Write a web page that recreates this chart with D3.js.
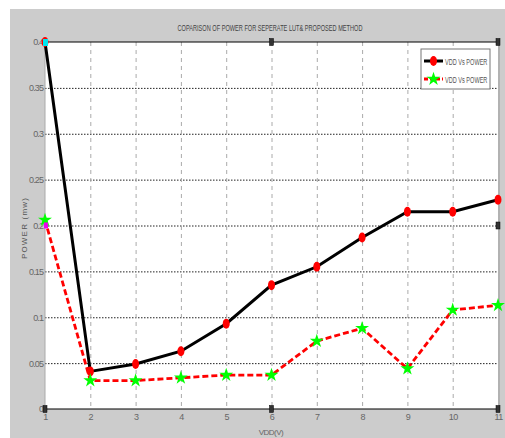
<!DOCTYPE html>
<html>
<head>
<meta charset="utf-8">
<script src="https://cdn.jsdelivr.net/npm/d3@7"></script>
<style>
	body { margin: 0; background: #fff; }
	svg text { font-family: "Liberation Sans", Arial, sans-serif; }
</style>
</head>
<body>
<svg id="chart" width="505" height="438"></svg>
<script>
// values
var vdd = [1, 2, 3, 4, 5, 6, 7, 8, 9, 10, 11];
var lutPower = [0.4, 0.041, 0.049, 0.063, 0.093, 0.135, 0.155, 0.187, 0.215, 0.215, 0.228];
var proposedPower = [0.206, 0.031, 0.031, 0.034, 0.037, 0.037, 0.074, 0.088, 0.044, 0.108, 0.113];
var yTicks = [0, 0.05, 0.1, 0.15, 0.2, 0.25, 0.3, 0.35, 0.4];
var yTickLabels = ["0", "0.05", "0.1", "0.15", "0.2", "0.25", "0.3", "0.35", "0.4"];
var legendNames = ["VDD Vs POWER", "VDD Vs POWER"];

var svg = d3.select("#chart"),
	margin = { top: 42, left: 45, right: 7, bottom: 29 },
	width = +svg.attr("width"),
	height = +svg.attr("height");

// grey figure background
svg.append("rect").attr("x", 10).attr("y", 9)
	.attr("width", width - 10).attr("height", height - 9)
	.attr("fill", "#cccccc");

var x = d3.scaleLinear().domain([1, 11]).range([margin.left, width - margin.right]);
var y = d3.scaleLinear().domain([0, 0.4]).range([height - margin.bottom, margin.top]);

svg.append("rect")
	.attr("x", x(1)).attr("y", y(0.4))
	.attr("width", x(11) - x(1)).attr("height", y(0) - y(0.4))
	.attr("fill", "#fff");

// grid
var g_grid = svg.append("g");
g_grid.selectAll("line.h").data(yTicks.slice(1, -1)).enter().append("line")
	.attr("x1", x(1)).attr("x2", x(11))
	.attr("y1", function(d) { return y(d) + 0.5; })
	.attr("y2", function(d) { return y(d) + 0.5; })
	.attr("stroke", "#222").attr("stroke-width", 1)
	.attr("stroke-dasharray", "1.5,1.5");
g_grid.selectAll("line.v").data(vdd.slice(1, -1)).enter().append("line")
	.attr("x1", function(d) { return x(d) + 0.5; })
	.attr("x2", function(d) { return x(d) + 0.5; })
	.attr("y1", y(0.4)).attr("y2", y(0))
	.attr("stroke", "#aaa").attr("stroke-width", 1)
	.attr("stroke-dasharray", "4,4");

// frame
svg.append("line").attr("x1", x(1)).attr("x2", x(11))
	.attr("y1", y(0.4)).attr("y2", y(0.4)).attr("stroke", "#000").attr("stroke-width", 1.2);
svg.append("line").attr("x1", x(1)).attr("x2", x(11))
	.attr("y1", y(0)).attr("y2", y(0)).attr("stroke", "#000").attr("stroke-width", 1.2);
svg.append("line").attr("x1", x(1)).attr("x2", x(1))
	.attr("y1", y(0.4)).attr("y2", y(0)).attr("stroke", "#aaa").attr("stroke-width", 1);
svg.append("line").attr("x1", x(11) + 1).attr("x2", x(11) + 1)
	.attr("y1", y(0.4)).attr("y2", y(0)).attr("stroke", "#aaa").attr("stroke-width", 1.5);

// axes
var yAxis = d3.axisLeft(y).tickValues(yTicks)
	.tickFormat(function(d, i) { return yTickLabels[i]; })
	.tickSize(0).tickPadding(2);
var g_y = svg.append("g").attr("transform", "translate(" + x(1) + ",0)").call(yAxis);
g_y.select(".domain").remove();
g_y.selectAll("text").attr("font-size", 9).attr("fill", "#666")
	.attr("letter-spacing", -0.9);

var xAxis = d3.axisBottom(x).tickValues(vdd).tickFormat(d3.format("d"))
	.tickSize(0).tickPadding(5);
var g_x = svg.append("g").attr("transform", "translate(0," + y(0) + ")").call(xAxis);
g_x.select(".domain").remove();
g_x.selectAll("text").attr("font-size", 9).attr("fill", "#666").attr("letter-spacing", -0.6);

// titles
svg.append("text").attr("x", 270).attr("y", 31).attr("text-anchor", "middle")
	.attr("font-size", 9).attr("fill", "#444")
	.attr("textLength", 185).attr("lengthAdjust", "spacingAndGlyphs")
	.text("COPARISON OF POWER FOR SEPERATE LUT& PROPOSED METHOD");
svg.append("text").attr("transform", "translate(27,228) rotate(-90)")
	.attr("text-anchor", "middle").attr("font-size", 8).attr("fill", "#555")
	.attr("letter-spacing", 1.2)
	.text("POWER (mw)");
svg.append("text").attr("x", 271).attr("y", 435).attr("text-anchor", "middle")
	.attr("font-size", 8).attr("fill", "#666").attr("letter-spacing", -0.5)
	.text("VDD(V)");

// lines
var line = d3.line()
	.x(function(d) { return x(d[0]); })
	.y(function(d) { return y(d[1]); });
var lutData = vdd.map(function(v, i) { return [v, lutPower[i]]; });
var propData = vdd.map(function(v, i) { return [v, proposedPower[i]]; });

svg.append("path").attr("d", line(propData)).attr("fill", "none")
	.attr("stroke", "#ff0000").attr("stroke-width", 2.8)
	.attr("stroke-dasharray", "6,3");
svg.append("path").attr("d", line(lutData)).attr("fill", "none")
	.attr("stroke", "#000").attr("stroke-width", 3);

var star = d3.symbol().type(d3.symbolStar).size(60);

svg.append("g").selectAll("ellipse").data(lutData).enter().append("ellipse")
	.attr("cx", function(d) { return x(d[0]); })
	.attr("cy", function(d) { return y(d[1]); })
	.attr("rx", 3.5).attr("ry", 5)
	.attr("fill", "#ff0000");
svg.append("g").selectAll("path").data(propData).enter().append("path")
	.attr("d", star)
	.attr("transform", function(d) { return "translate(" + x(d[0]) + "," + y(d[1]) + ")"; })
	.attr("fill", "#00ff00");

// data cursor marks
svg.append("rect").attr("x", x(1) - 2).attr("y", y(0.4) - 3).attr("width", 5).attr("height", 7)
	.attr("fill", "#00e5ee");
svg.append("rect").attr("x", x(1) - 1).attr("y", y(0.2) - 3).attr("width", 4).attr("height", 6)
	.attr("fill", "#ee00ee");

// selection handles
var handles = [[6, 0.4], [11, 0.4], [11, 0.2], [1, 0], [6, 0], [11, 0]];
svg.append("g").selectAll("rect").data(handles).enter().append("rect")
	.attr("x", function(d) { return x(d[0]) - 2; })
	.attr("y", function(d) { return y(d[1]) - 3.5; })
	.attr("width", 4).attr("height", 7)
	.attr("fill", "#333").attr("stroke", "#000").attr("stroke-width", 0.5);

// legend
var legend = svg.append("g").attr("transform", "translate(421,49)");
legend.append("rect").attr("width", 69).attr("height", 40)
	.attr("fill", "#fff").attr("stroke", "#777").attr("stroke-width", 1);
var items = legend.selectAll("g").data(legendNames).enter().append("g")
	.attr("transform", function(d, i) { return "translate(0," + (12 + i * 18) + ")"; });
items.append("line").attr("x1", 3).attr("x2", 22)
	.attr("stroke", function(d, i) { return i == 0 ? "#000" : "#ff0000"; })
	.attr("stroke-width", 3)
	.attr("stroke-dasharray", function(d, i) { return i == 0 ? null : "4,2"; });
items.filter(function(d, i) { return i == 0; }).append("ellipse")
	.attr("cx", 12.5).attr("rx", 3.5).attr("ry", 5).attr("fill", "#ff0000");
items.filter(function(d, i) { return i == 1; }).append("path")
	.attr("d", star).attr("transform", "translate(12.5,0)").attr("fill", "#00ff00");
items.append("text").attr("transform", "translate(24,3.5) scale(0.62,1)")
	.attr("font-size", 9).attr("fill", "#555")
	.text(function(d) { return d; });
</script>
</body>
</html>
